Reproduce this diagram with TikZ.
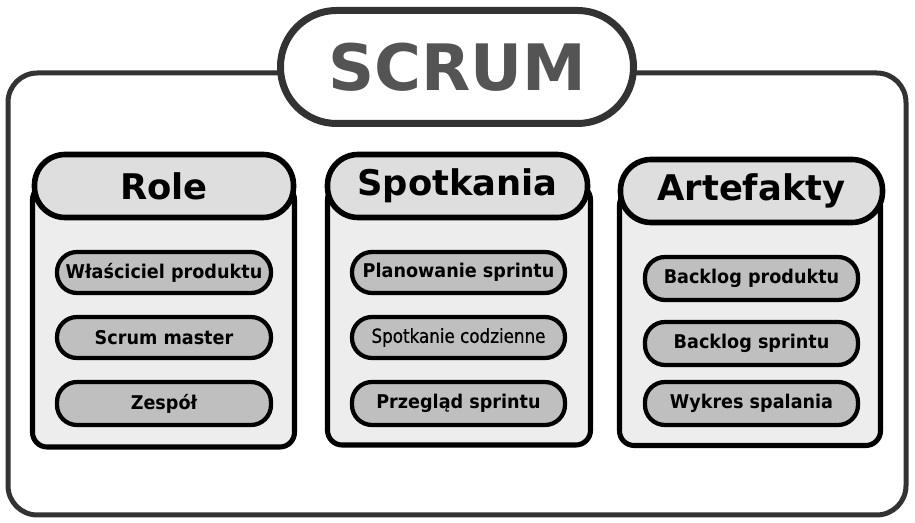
\documentclass[tikz,border=0pt]{standalone}
\usepackage{fontspec}
\setmainfont{DejaVu Sans}
\newfontfamily\itembold[FakeStretch=0.93]{DejaVu Sans Bold}
\newfontfamily\itemreg[FakeStretch=0.86,FakeBold=0.6]{DejaVu Sans}
\begin{document}
\begin{tikzpicture}[x=0.75pt,y=-0.75pt,
  box/.style 2 args={draw, rectangle, inner sep=0pt, minimum width={#1*0.75pt}, minimum height={#2*0.75pt}},
  outerbox/.style={draw=black!80, line width=3.75pt, rounded corners=22pt, fill=white},
  titlebox/.style={draw=black!80, line width=5.25pt, rounded corners=42pt, fill=white,
     text=black!67, font=\bfseries\fontsize{48}{50}\selectfont},
  colbody/.style={draw=black, line width=3.8pt, rounded corners=11pt, fill=black!7},
  colhead/.style={draw=black, line width=4.2pt, rounded corners=23pt, fill=black!13,
     font=\bfseries\fontsize{26.5}{28}\selectfont},
  itembox/.style={draw=black, line width=3.2pt, rounded corners=15pt, fill=black!25,
     font=\itembold\fontsize{14.2}{16}\selectfont}
]
\useasboundingbox (0,0) rectangle (915,523);
\fill[white] (0,0) rectangle (915,523);

% outer frame and title
\node[outerbox, box={898}{442}] (frame) at (457,294) {};
\node[titlebox, box={353}{113}] (title) at (457,67) {SCRUM};

% column bodies
\node[colbody, box={262}{262}] (rolebody) at (163.5,316) {};
\node[colbody, box={263}{260}] (spotbody) at (459,315) {};
\node[colbody, box={261}{255}] (artbody) at (750,318) {};

% column headers
\node[colhead, box={259}{63}] (rolehead) at (164,186) {Role};
\node[colhead, box={260}{63}] (spothead) at (457.5,186) {Spotkania};
\node[colhead, box={262}{63}] (arthead) at (751.5,191) {Artefakty};

% items: Role
\node[itembox, box={214}{41}] (r1) at (164,272.5) {Właściciel produktu};
\node[itembox, box={214}{41}] (r2) at (164,337.5) {Scrum master};
\node[itembox, box={214}{43}] (r3) at (164,403.5) {Zespół};

% items: Spotkania
\node[itembox, box={213}{41}] (s1) at (458.5,272.5) {Planowanie sprintu};
\node[itembox, box={213}{41}, font=\itemreg\fontsize{14.6}{16}\selectfont] (s2) at (458.5,337.5) {Spotkanie codzienne};
\node[itembox, box={213}{43}] (s3) at (458.5,403.5) {Przegląd sprintu};

% items: Artefakty
\node[itembox, box={213}{43}] (a1) at (751.5,278.5) {Backlog produktu};
\node[itembox, box={213}{43}] (a2) at (751.5,343.5) {Backlog sprintu};
\node[itembox, box={213}{43}] (a3) at (751.5,403.5) {Wykres spalania};
\end{tikzpicture}
\end{document}
